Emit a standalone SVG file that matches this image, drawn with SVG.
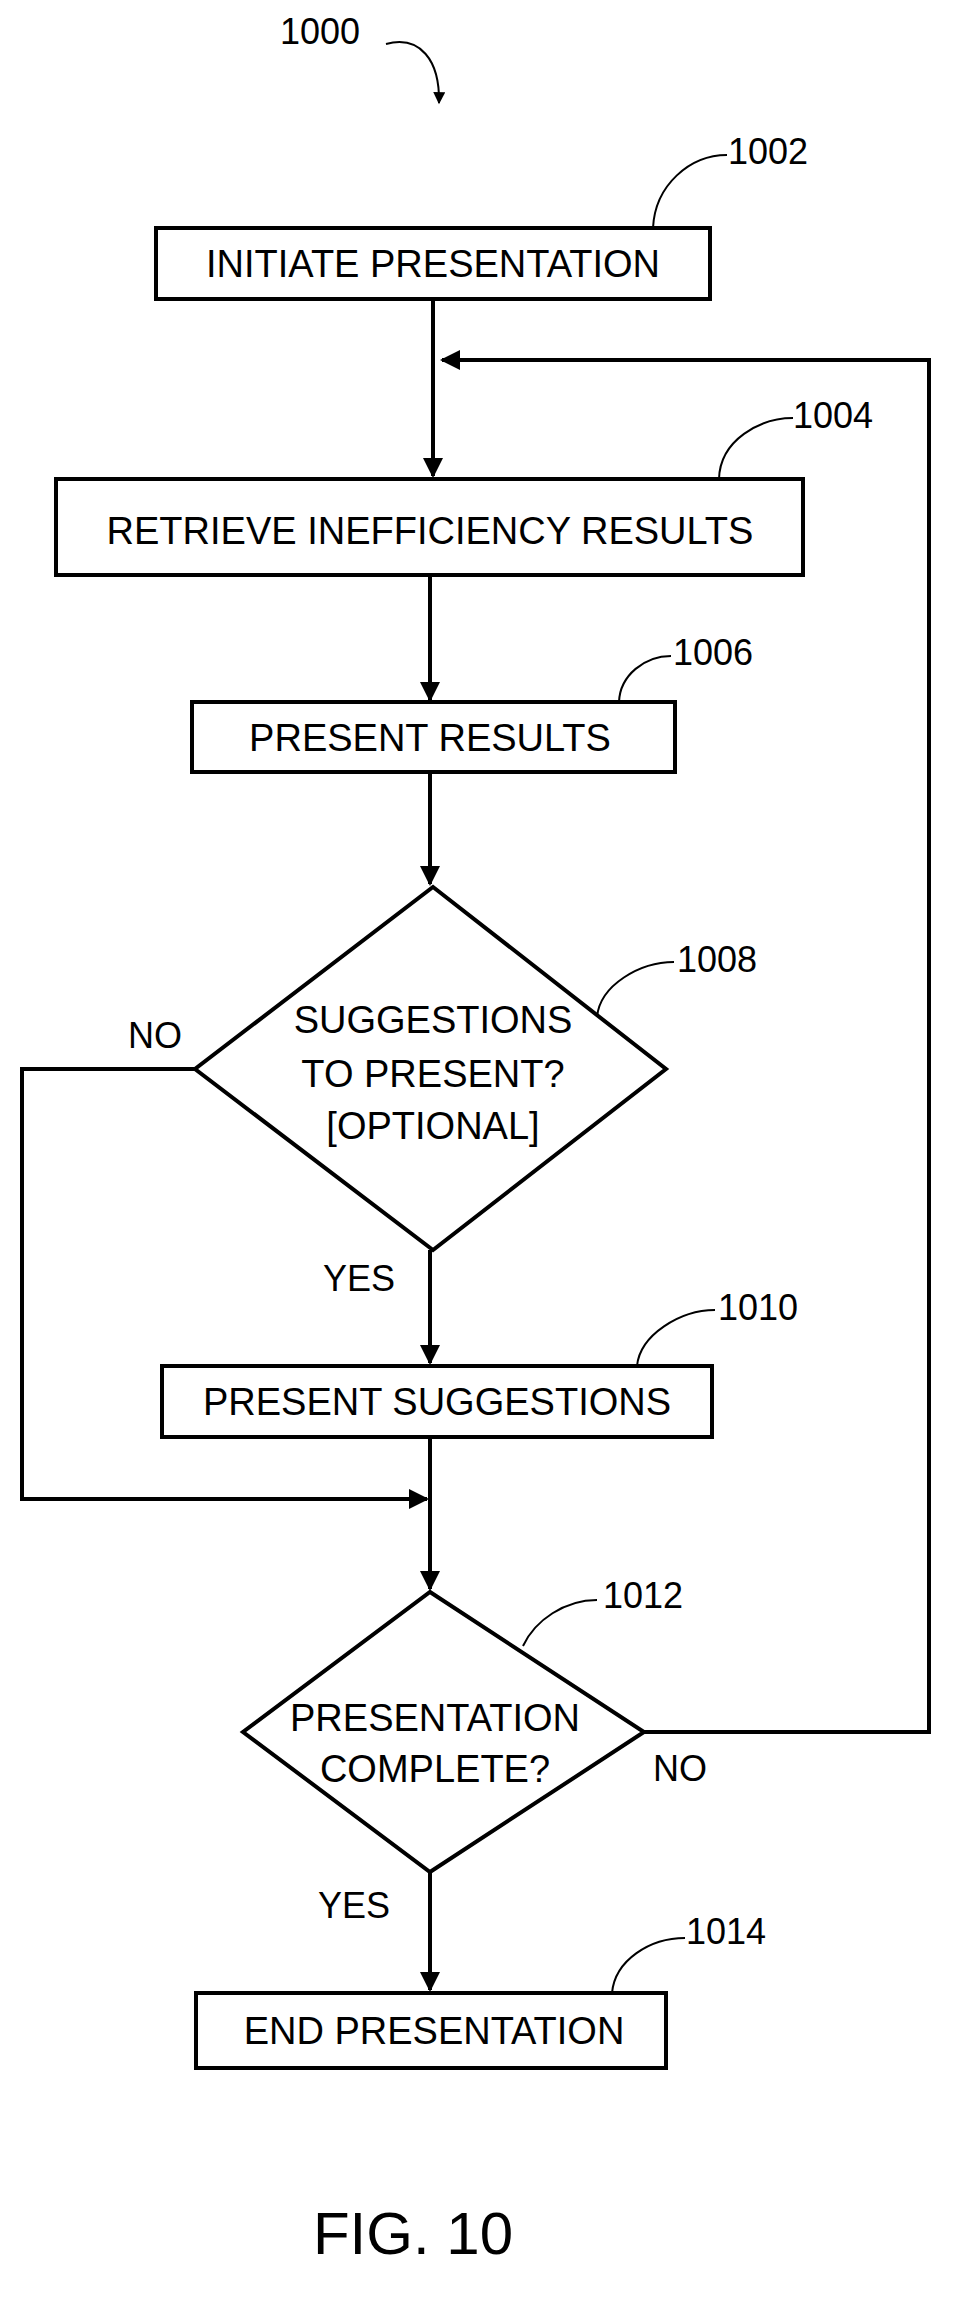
<svg xmlns="http://www.w3.org/2000/svg" width="958" height="2310" viewBox="0 0 958 2310">
<style>
.b{fill:#fff;stroke:#000;stroke-width:4}
.t{font-family:"Liberation Sans",Arial,sans-serif;font-size:38px;text-anchor:middle;fill:#000}
.l{font-family:"Liberation Sans",Arial,sans-serif;font-size:36px;fill:#000}
.c{fill:none;stroke:#000;stroke-width:4}
.d{fill:none;stroke:#000;stroke-width:2}
</style>
<defs><marker id="a" viewBox="0 0 10 10" refX="9" refY="5" markerWidth="6" markerHeight="5" orient="auto" markerUnits="strokeWidth"><path d="M0,0L10,5L0,10z" fill="#000"/></marker>
<marker id="s" viewBox="0 0 10 10" refX="9" refY="5" markerWidth="7" markerHeight="6" orient="auto" markerUnits="strokeWidth"><path d="M0,0L10,5L0,10z" fill="#000"/></marker></defs>
<rect width="958" height="2310" fill="#fff"/>
<text class="l" x="280" y="44">1000</text>
<path class="d" d="M386,44 C420,35 440,60 439,103" marker-end="url(#s)"/>
<g id="connectors">
<path class="c" d="M433,299V476" marker-end="url(#a)"/>
<path class="c" d="M644,1732H929V360H442" marker-end="url(#a)"/>
<path class="c" d="M430,575V700" marker-end="url(#a)"/>
<path class="c" d="M430,772V884" marker-end="url(#a)"/>
<path class="c" d="M195,1069H22V1499H427" marker-end="url(#a)"/>
<path class="c" d="M430,1250V1363" marker-end="url(#a)"/>
<path class="c" d="M430,1437V1589" marker-end="url(#a)"/>
<path class="c" d="M430,1872V1990" marker-end="url(#a)"/>
<text class="l" x="128" y="1048">NO</text>
<text class="l" x="323" y="1291">YES</text>
<text class="l" x="653" y="1781">NO</text>
<text class="l" x="318" y="1918">YES</text>
</g>
<g id="n1002"><rect class="b" x="156" y="228" width="554" height="71"/><text class="t" x="433" y="277">INITIATE PRESENTATION</text><path class="d" d="M653,228C655,185 690,155 727,155"/><text class="l" x="728" y="164">1002</text></g>
<g id="n1004"><rect class="b" x="56" y="479" width="747" height="96"/><text class="t" x="430" y="544">RETRIEVE INEFFICIENCY RESULTS</text><path class="d" d="M719,479C720,440 760,418 793,418"/><text class="l" x="793" y="428">1004</text></g>
<g id="n1006"><rect class="b" x="192" y="702" width="483" height="70"/><text class="t" x="430" y="751">PRESENT RESULTS</text><path class="d" d="M619,702C620,675 645,656 671,656"/><text class="l" x="673" y="665">1006</text></g>
<g id="n1008"><path class="b" d="M433,887L666,1069L433,1250L195,1069Z"/><text class="t" x="433" y="1033">SUGGESTIONS</text><text class="t" x="433" y="1087">TO PRESENT?</text><text class="t" x="433" y="1139">[OPTIONAL]</text><path class="d" d="M597,1017C600,985 640,962 674,962"/><text class="l" x="677" y="972">1008</text></g>
<g id="n1010"><rect class="b" x="162" y="1366" width="550" height="71"/><text class="t" x="437" y="1415">PRESENT SUGGESTIONS</text><path class="d" d="M637,1366C640,1335 680,1310 715,1310"/><text class="l" x="718" y="1320">1010</text></g>
<g id="n1012"><path class="b" d="M430,1592L644,1732L430,1872L243,1732Z"/><text class="t" x="435" y="1731">PRESENTATION</text><text class="t" x="435" y="1782">COMPLETE?</text><path class="d" d="M523,1646C535,1620 565,1600 597,1600"/><text class="l" x="603" y="1608">1012</text></g>
<g id="n1014"><rect class="b" x="196" y="1993" width="470" height="75"/><text class="t" x="434" y="2044">END PRESENTATION</text><path class="d" d="M612,1993C615,1960 650,1938 685,1938"/><text class="l" x="686" y="1944">1014</text></g>
<text x="413" y="2254" style="font-family:'Liberation Sans',Arial,sans-serif;font-size:60px;text-anchor:middle">FIG. 10</text>
</svg>
